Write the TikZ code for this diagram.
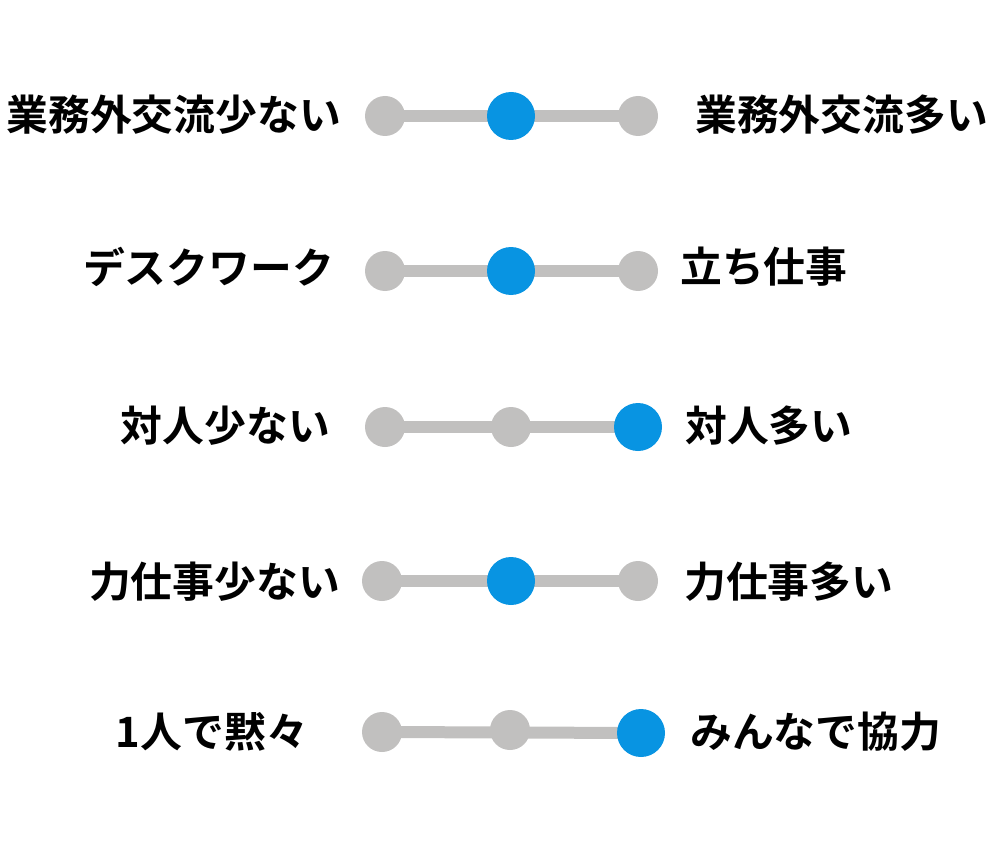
\documentclass[tikz,border=0pt]{standalone}
\usepackage{fontspec}
\newfontfamily\jpfont{Noto Sans CJK JP}[BoldFont={Noto Sans CJK JP Bold}]
\usetikzlibrary{backgrounds}
\definecolor{dotgray}{RGB}{193,192,191}
\definecolor{dotblue}{RGB}{8,148,226}
\tikzset{
  dot/.style={circle, fill=dotgray, minimum size=40pt, inner sep=0pt},
  pick/.style={circle, fill=dotblue, minimum size=48pt, inner sep=0pt},
  track/.style={draw=dotgray, line width=12pt},
  lbl/.style={inner sep=0pt, font=\jpfont\bfseries\fontsize{41.8}{42}\selectfont}
}
\begin{document}
\begin{tikzpicture}[x=1pt, y=-1pt]
    \useasboundingbox (0,0) rectangle (1000,850);

    \node[dot]  (r1a) at (385,116) {};
    \node[pick] (r1b) at (511,116) {};
    \node[dot]  (r1c) at (638,116) {};
    \draw (341,131) node[lbl, anchor=base east] (r1l) {業務外交流少ない};
    \draw (695,131) node[lbl, anchor=base west] (r1r) {業務外交流多い};

    \node[dot]  (r2a) at (385,271) {};
    \node[pick] (r2b) at (511,271) {};
    \node[dot]  (r2c) at (638,271) {};
    \draw (334,283) node[lbl, anchor=base east] (r2l) {デスクワーク};
    \draw (680,282) node[lbl, anchor=base west] (r2r) {立ち仕事};

    \node[dot]  (r3a) at (385,427) {};
    \node[dot]  (r3b) at (511,427) {};
    \node[pick] (r3c) at (638,427) {};
    \draw (330,441) node[lbl, anchor=base east] (r3l) {対人少ない};
    \draw (685,441) node[lbl, anchor=base west] (r3r) {対人多い};

    \node[dot]  (r4a) at (382,581) {};
    \node[pick] (r4b) at (511,581) {};
    \node[dot]  (r4c) at (638,581) {};
    \draw (340,597) node[lbl, anchor=base east] (r4l) {力仕事少ない};
    \draw (684,597) node[lbl, anchor=base west] (r4r) {力仕事多い};

    \node[dot]  (r5a) at (382,732) {};
    \node[dot]  (r5b) at (510,730) {};
    \node[pick] (r5c) at (641,733) {};
    \draw (308,747) node[lbl, anchor=base east] (r5l) {1人で黙々};
    \draw (690,747) node[lbl, anchor=base west] (r5r) {みんなで協力};

    \begin{scope}[on background layer]
        \draw[track] (r1a.center) -- (r1c.center);
        \draw[track] (r2a.center) -- (r2c.center);
        \draw[track] (r3a.center) -- (r3c.center);
        \draw[track] (r4a.center) -- (r4c.center);
        \draw[track] (r5a.center) -- (r5c.center);
    \end{scope}
\end{tikzpicture}
\end{document}
